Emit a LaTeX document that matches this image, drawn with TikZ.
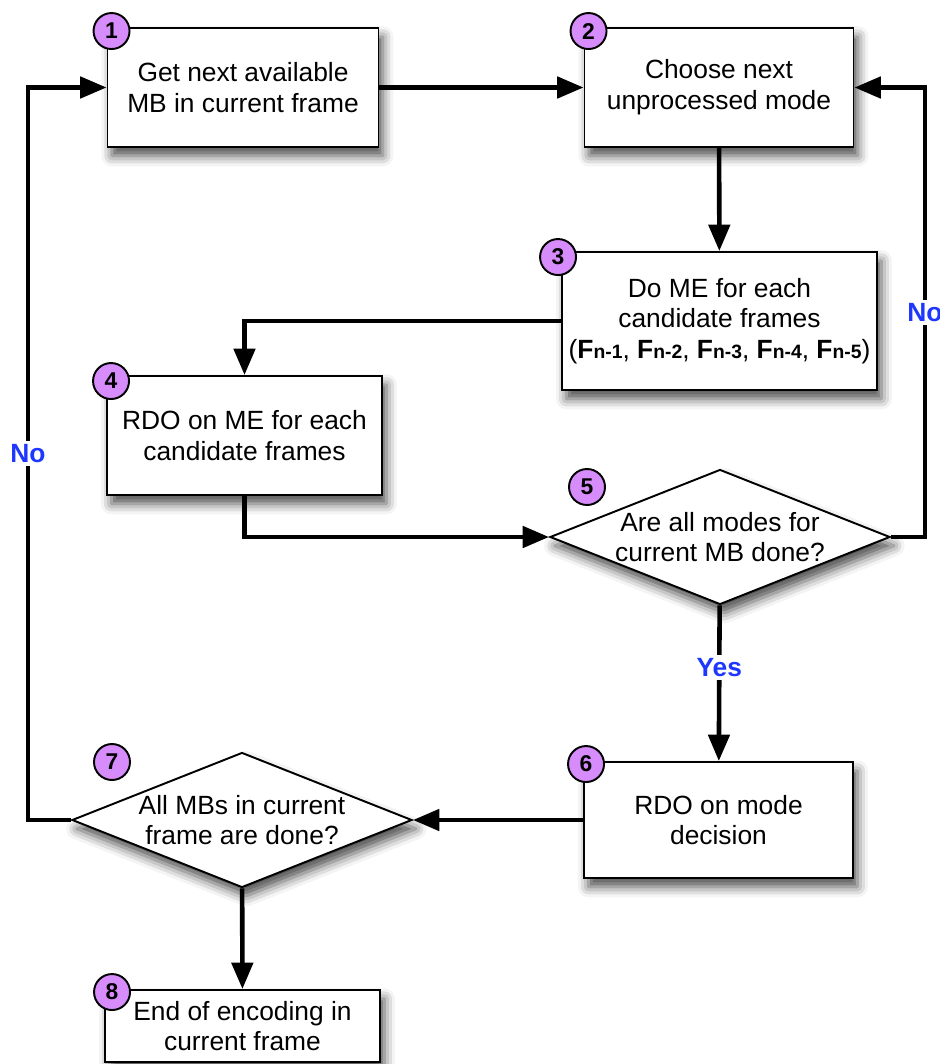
\documentclass[tikz,border=0pt]{standalone}
\usepackage{fontspec}
\setmainfont{Liberation Sans}
\usetikzlibrary{arrows.meta, shapes.geometric, shadows.blur}

\definecolor{badgepurple}{RGB}{214,140,250}
\definecolor{answerblue}{RGB}{30,55,255}
\newcommand{\Fn}[1]{\textbf{F}{\bfseries\fontsize{11}{11}\selectfont n-#1}}

\tikzset{
  softshadow/.style={blur shadow={shadow xshift=2.5pt, shadow yshift=-5pt,
      shadow blur radius=6pt, shadow opacity=70}},
  stepbox/.style={draw, line width=1.1pt, fill=white, align=center,
      inner sep=0pt, softshadow},
  decision/.style={diamond, draw, line width=1.1pt, fill=white, inner sep=0pt,
      aspect=2.5, minimum width=6.8cm, minimum height=2.7cm, softshadow},
  badge/.style={circle, draw, line width=1.1pt, fill=badgepurple,
      minimum size=0.72cm, inner sep=0pt, font=\fontsize{13}{13}\selectfont\bfseries},
  flow/.style={-{Triangle[length=15pt, width=12pt]}, line width=2.6pt},
  answer/.style={fill=white, text=answerblue, inner sep=2pt,
      font=\fontsize{15}{15}\selectfont\bfseries}
}

\begin{document}
\begin{tikzpicture}[font=\fontsize{15}{17.5}\selectfont]
      \useasboundingbox (0, 0) rectangle (18.8, -21.28);

      \node[stepbox, minimum width=5.42cm, minimum height=2.38cm] (1) at (4.86, -1.75)
        {Get next available\\MB in current frame};
      \node[stepbox, minimum width=5.38cm, minimum height=2.38cm] (2) at (14.38, -1.75)
        {Choose next\\unprocessed mode};
      \node[stepbox, minimum width=6.3cm, minimum height=2.76cm] (3) at (14.39, -6.42)
        {Do ME for each\\candidate frames\\(\Fn{1}, \Fn{2}, \Fn{3}, \Fn{4}, \Fn{5})};
      \node[stepbox, minimum width=5.5cm, minimum height=2.38cm] (4) at (4.89, -8.71)
        {RDO on ME for each\\candidate frames};
      \node[decision, label={[align=center]center:Are all modes for\\current MB done?}] (5) at (14.4, -10.74) {};
      \node[stepbox, minimum width=5.38cm, minimum height=2.32cm] (6) at (14.37, -16.4)
        {RDO on mode\\decision};
      \node[decision, label={[align=center]center:All MBs in current\\frame are done?}] (7) at (4.84, -16.4) {};
      \node[stepbox, minimum width=5.5cm, minimum height=1.44cm] (8) at (4.85, -20.52)
        {End of encoding in\\current frame};

      % numbered badges
      \node[badge] (c1) at ([shift={(0.1,-0.08)}]1.north west) {1};
      \node[badge] (c2) at ([shift={(0.1,-0.08)}]2.north west) {2};
      \node[badge] (c3) at ([shift={(-0.06,-0.12)}]3.north west) {3};
      \node[badge] (c4) at ([shift={(0.1,-0.12)}]4.north west) {4};
      \node[badge] (c5) at (11.74, -9.74) {5};
      \node[badge] (c6) at ([shift={(0.06,-0.06)}]6.north west) {6};
      \node[badge] (c7) at (2.24, -15.24) {7};
      \node[badge] (c8) at ([shift={(0.16,-0.06)}]8.north west) {8};

      \coordinate (r5) at (18.5, -10.74);
      \coordinate (l7) at (0.56, -16.4);

      \draw (1) edge[flow] (2);
      \draw (2) edge[flow] (3);
      \draw[flow] (3.west) -| (4.north);
      \draw[flow] (4.south) |- (5.west);
      \draw[flow] (5.east) -- (r5) |- node[answer, pos=0.25]{No} (2.east);
      \draw (5) edge[flow] node[answer, pos=0.4]{Yes} (6);
      \draw (6) edge[flow] (7);
      \draw[flow] (7.west) -- (l7) |- node[answer, pos=0.25]{No} (1.west);
      \draw (7) edge[flow] (8);

    \end{tikzpicture}
\end{document}
